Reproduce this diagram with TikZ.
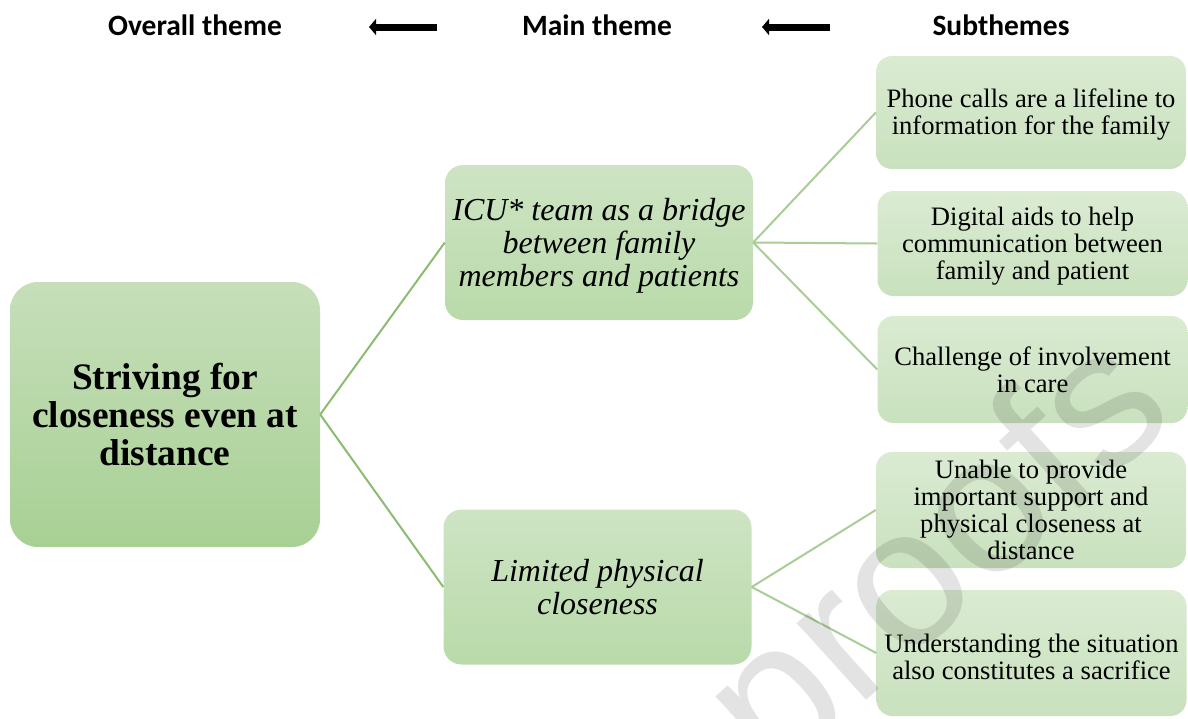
\documentclass[tikz,border=0pt]{standalone}
\usepackage{fontspec}
\setmainfont{Liberation Serif}
\newfontfamily\hdrfont{Carlito}
\newfontfamily\wmfont{Liberation Sans}
\usetikzlibrary{arrows.meta}
\definecolor{rootA}{HTML}{C6DFBA}
\definecolor{rootB}{HTML}{A8D094}
\definecolor{mainA}{HTML}{CEE4C4}
\definecolor{mainB}{HTML}{B9DAAA}
\definecolor{subA}{HTML}{DAEBD2}
\definecolor{subB}{HTML}{C9E1BE}
\definecolor{connL}{HTML}{8CBB72}
\definecolor{connR}{HTML}{A9CD96}
\begin{document}
\begin{tikzpicture}[x=1pt,y=-1pt,
  hdr/.style={font=\hdrfont\bfseries\fontsize{29.5}{32}\selectfont, inner sep=0pt},
  rootbox/.style={rounded corners=28pt, top color=rootA, bottom color=rootB, draw=none,
    minimum width=310pt, minimum height=265pt, inner sep=0pt},
  roottext/.style={align=center, inner sep=0pt, font=\fontsize{37.4}{38}\selectfont\bfseries},
  mainbox/.style={rounded corners=18pt, top color=mainA, bottom color=mainB, draw=none,
    minimum width=308pt, minimum height=155pt, inner sep=0pt},
  maintext/.style={align=center, inner sep=0pt, font=\fontsize{32}{33}\selectfont\itshape},
  subbox/.style={rounded corners=16pt, top color=subA, bottom color=subB, draw=none,
    minimum width=310pt, inner sep=0pt},
  subtext/.style={align=center, inner sep=0pt, font=\fontsize{26.6}{27}\selectfont},
  connl/.style={draw=connL, line width=2pt},
  connr/.style={draw=connR, line width=2pt},
  harrow/.style={line width=7pt, -{Triangle[length=7pt,width=16pt]}},
  wm/.style={font=\wmfont\fontsize{196}{200}\selectfont, text=black, opacity=0.11, inner sep=0pt}
]
\useasboundingbox (0,0) rectangle (1188,718);

% headers
\node[hdr] (h1) at (195,25) {Overall theme};
\node[hdr] (h2) at (597,25) {Main theme};
\node[hdr] (h3) at (1001,25) {Subthemes};
\coordinate (a1s) at (437,27);
\coordinate (a1e) at (369,27);
\coordinate (a2s) at (830,27);
\coordinate (a2e) at (762,27);
\draw[harrow] (a1s) -- (a1e);
\draw[harrow] (a2s) -- (a2e);

% boxes
\node[rootbox] (root) at (165,414.5) {};
\node[mainbox] (icu) at (599,242.5) {};
\node[mainbox] (lim) at (597.5,587) {};
\node[subbox, minimum height=113pt] (s1) at (1031,112.5) {};
\node[subbox, minimum height=105pt] (s2) at (1032.5,243.5) {};
\node[subbox, minimum height=107pt] (s3) at (1032.5,369.5) {};
\node[subbox, minimum height=116pt] (s4) at (1031,510) {};
\node[subbox, minimum height=126pt] (s5) at (1031.5,653) {};

% texts
\node[roottext] (roott) at (root.center) {Striving for\\closeness even at\\distance};
\node[maintext] (icut) at ([yshift=-3pt]icu.center) {ICU* team as a bridge\\between family\\members and patients};
\node[maintext] (limt) at ([yshift=-0.5pt]lim.center) {Limited physical\\closeness};
\node[subtext] (s1t) at ([yshift=-2.5pt]s1.center) {Phone calls are a lifeline to\\information for the family};
\node[subtext] (s2t) at ([yshift=-2.5pt]s2.center) {Digital aids to help\\communication between\\family and patient};
\node[subtext] (s3t) at (s3.center) {Challenge of involvement\\in care};
\node[subtext] (s4t) at ([yshift=0.5pt]s4.center) {Unable to provide\\important support and\\physical closeness at\\distance};
\node[subtext] (s5t) at ([yshift=-4pt]s5.center) {Understanding the situation\\also constitutes a sacrifice};

% connectors
\draw[connl] (root.east) -- (icu.west);
\draw[connl] (root.east) -- (lim.west);
\draw[connr] (icu.east) -- (s1.west);
\draw[connr] (icu.east) -- (s2.west);
\draw[connr] (icu.east) -- (s3.west);
\draw[connr] (lim.east) -- (s4.west);
\draw[connr] (lim.east) -- (s5.west);

% watermark
\node[wm, anchor=base east, rotate=42] (wmark) at (1180,418) {proofs};
\end{tikzpicture}
\end{document}
